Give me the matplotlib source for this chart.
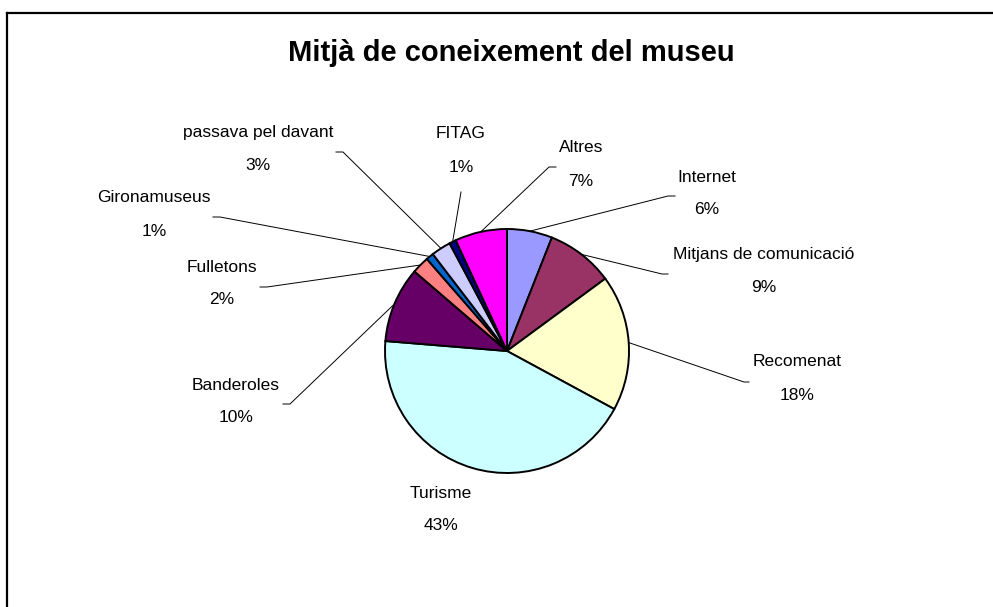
import numpy as np
import matplotlib
matplotlib.use("Agg")
import matplotlib.pyplot as plt

# data (clockwise from 12 o'clock)
categories = ["Internet", "Mitjans de comunicació", "Recomenat", "Turisme",
              "Banderoles", "Fulletons", "Gironamuseus", "passava pel davant",
              "FITAG", "Altres"]
values = [6.0, 8.9, 18.0, 43.4, 10.0, 2.3, 1.0, 2.6, 0.9, 6.9]
colors = ["#9999FF", "#993366", "#FFFFCC", "#CCFFFF", "#660066",
          "#FF8080", "#0066CC", "#CCCCFF", "#000080", "#FF00FF"]
title = "Mitjà de coneixement del museu"

W, H = 993, 607

# layout (pixel positions, y from top): label centre, leader elbow, leader end
label_pos = [(707, 177), (764, 255), (797, 362), (441, 493), (236, 385),
             (222, 267), (154, 198), (258, 133), (461, 134), (581, 148)]
elbow_pos = [(668, 196), (662, 274), (744, 382), None, (290, 404),
             (267, 287), (220, 217), (343, 152), (461, 192), (549, 167)]
end_pos = [(675, 196), (668, 274), (749, 382), None, (283, 404),
           (260, 287), (213, 217), (336, 152), (461, 192), (556, 167)]

plt.rcParams['font.family'] = ['Liberation Sans', 'DejaVu Sans']

fig = plt.figure(figsize=(W / 100, H / 100), dpi=100)
ax = fig.add_axes([0, 0, 1, 1])


def Y(y):
    return H - y


cx, cy, r = 507, Y(351), 122
wedges, _ = ax.pie(values, colors=colors, startangle=90, counterclock=False,
                   center=(cx, cy), radius=r, frame=True,
                   wedgeprops=dict(edgecolor="black", linewidth=1.4))
ax.set_xlim(0, W)
ax.set_ylim(0, H)
ax.set_aspect("equal")
ax.axis("off")

for i, w in enumerate(wedges):
    name = categories[i]
    pct = f"{round(values[i])}%"
    lx, ly = label_pos[i]
    ax.text(lx, Y(ly), name, ha="center", va="center", fontsize=12.5)
    ax.text(lx, Y(ly + 33), pct, ha="center", va="center", fontsize=12.5)
    if elbow_pos[i] is not None:
        ang = np.deg2rad((w.theta1 + w.theta2) / 2)
        sx, sy = cx + r * np.cos(ang), cy + r * np.sin(ang)
        ex, ey = elbow_pos[i]
        tx, ty = end_pos[i]
        ax.plot([sx, ex, tx], [sy, Y(ey), Y(ty)], color="black", lw=0.7)

fig.text(511 / W, 1 - 53 / H, title, ha="center", va="center",
         fontsize=21, fontweight="bold")

# chart area border (only top and left edges are visible)
ax.plot([6.5, W], [Y(12.5), Y(12.5)], color="black", lw=1.6, clip_on=False)
ax.plot([6.5, 6.5], [Y(12.5), 0], color="black", lw=1.6, clip_on=False)

fig.savefig("out.png", dpi=100)
